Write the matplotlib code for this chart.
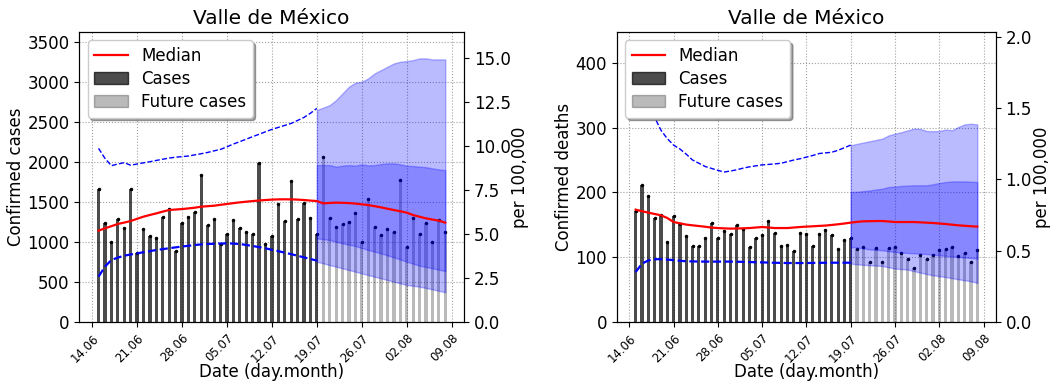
import pandas as pd
import matplotlib
matplotlib.use("Agg")
import matplotlib.pyplot as plt
import matplotlib.dates as mdates
from matplotlib.patches import Patch
from matplotlib.lines import Line2D

region = "Valle de México"
population = 22_000_000

# daily reporting dates: 15.06 – 19.07 observed, 20.07 – 08.08 forecast
dates = pd.date_range("2020-06-15", "2020-08-08")
n_obs = 35
week_ticks = pd.date_range("2020-06-14", "2020-08-09", freq="7D")

# ---- confirmed cases ----
cases_obs = [1667, 1242, 996, 1287, 1171, 1662, 867, 1158, 1071, 1054, 1308, 1408,
             883, 1242, 1308, 1371, 1833, 1212, 1283, 979, 1100, 1271, 1179, 1125,
             1104, 1988, 975, 1071, 1479, 1262, 1758, 1283, 1487, 1300, 1104]
cases_future = [2067, 1296, 1192, 1225, 1246, 1358, 1004, 1533, 1192, 1083, 1162,
                1121, 1775, 933, 1296, 1096, 1237, 1004, 1275, 1121]
cases_median = [1142, 1171, 1198, 1225, 1243, 1262, 1290, 1317, 1338, 1358, 1380,
                1400, 1406, 1412, 1420, 1429, 1442, 1448, 1454, 1465, 1475, 1486,
                1496, 1504, 1512, 1519, 1525, 1530, 1533, 1534, 1533, 1530, 1525,
                1518, 1512, 1483, 1488, 1492, 1490, 1487, 1480, 1471, 1462, 1448,
                1433, 1416, 1400, 1384, 1367, 1337, 1316, 1296, 1281, 1267, 1242]
cases_hi = [2171, 2046, 1954, 1975, 1992, 1960, 1975, 1990, 2004, 2020, 2035, 2050,
            2060, 2068, 2075, 2090, 2104, 2120, 2140, 2158, 2190, 2225, 2255, 2286,
            2317, 2347, 2378, 2408, 2433, 2458, 2483, 2520, 2558, 2610, 2671]
cases_lo = [567, 692, 775, 805, 829, 844, 858, 872, 886, 900, 911, 922, 933, 943,
            953, 962, 970, 975, 978, 981, 983, 980, 975, 963, 950, 936, 921, 903,
            885, 867, 848, 828, 808, 788, 767]
cases_outer_hi = [2650, 2680, 2712, 2775, 2858, 2942, 2992, 3004, 3046, 3108, 3150,
                  3192, 3233, 3254, 3262, 3275, 3296, 3296, 3283, 3283, 3283]
cases_inner_hi = [1962, 1962, 1962, 1942, 1955, 1962, 1955, 1971, 1958, 1962, 1975,
                  1983, 1983, 1971, 1954, 1950, 1942, 1935, 1921, 1908, 1900]
cases_inner_lo = [1046, 1035, 1025, 1004, 983, 967, 950, 925, 900, 879, 858, 833,
                  808, 781, 754, 729, 704, 688, 671, 654, 637]
cases_outer_lo = [754, 733, 712, 692, 671, 650, 629, 608, 587, 566, 546, 525, 504,
                  483, 462, 452, 442, 425, 408, 390, 371]

# ---- confirmed deaths ----
deaths_obs = [172, 211, 194, 160, 165, 123, 163, 151, 133, 118, 117, 130, 153, 130,
              141, 136, 150, 143, 116, 130, 134, 156, 137, 118, 119, 109, 138, 136,
              117, 136, 142, 135, 113, 126, 129]
deaths_future = [112, 116, 92, 114, 92, 114, 115, 106, 97, 83, 104, 97, 103, 111,
                 112, 115, 102, 107, 93, 111]
deaths_median = [173.4, 171, 168.8, 166.7, 164.7, 160.5, 154.3, 152.3, 150.3, 149.2,
                 148.1, 147, 145.7, 145, 144.5, 144.1, 144.3, 144.6, 145, 145.8,
                 146.6, 145.8, 145, 145, 145, 145.8, 146.6, 147.2, 147.7, 148.3,
                 148.8, 149.8, 150.8, 152, 153.4, 154.5, 155.4, 155.6, 155.8, 155.9,
                 155.1, 154.3, 154.3, 154.3, 154.3, 153.8, 153.3, 152.8, 152, 151.2,
                 150.2, 149.2, 148.5, 147.8, 147.2]
deaths_hi = [420, 385, 350, 316, 296, 283, 273, 267, 259, 250, 245, 240, 237, 234,
             231.5, 233, 235, 237.5, 239.5, 241, 242.5, 243.2, 244, 245, 247.5, 250,
             252, 254.5, 257, 260, 261, 262, 265, 269, 273]
deaths_lo = [77, 90, 95, 96.8, 97, 96.3, 95.5, 94.5, 93.7, 93.5, 93.3, 93.2, 93.2,
             93.2, 93.2, 93.2, 93, 92.8, 92.5, 92.2, 92, 91.7, 91.4, 91.2, 91, 91, 91,
             91, 91.2, 91.3, 91.4, 91.5, 91.5, 91.5, 91.5]
deaths_outer_hi = [272.7, 275, 277, 279, 281, 283, 288, 290.7, 293, 295.8, 298.4, 298,
                   294.8, 294.5, 294.8, 297, 296, 301, 305, 306, 305]
deaths_inner_hi = [200.6, 201, 202, 203, 204.5, 205.8, 208.3, 209, 210, 210.5, 211,
                   211, 211, 212.5, 214.5, 216, 217, 217, 217, 216.5, 216]
deaths_inner_lo = [115.7, 115, 113.5, 112, 111.3, 110.6, 109.3, 108, 107.3, 106.5, 106,
                   105.5, 104.8, 104, 103, 102, 101.2, 100.3, 99.5, 98.8, 97.8]
deaths_outer_lo = [90, 89, 88.2, 87.5, 87, 86.4, 84.4, 82.4, 81.6, 80.9, 78.5, 76.2,
                   74, 72, 70.7, 69.4, 67.6, 65.9, 64.4, 62.8, 60.2]


def draw_panel(ax, obs, future, median, hi, lo, outer_lo, outer_hi, inner_lo,
               inner_hi, ymax, yticks, twin_ticks, ylabel):
    past = dates[:n_obs]
    ahead = dates[n_obs:]
    band = dates[n_obs - 1:]

    ax.grid(True, linestyle=":", color="#a0a0a0", linewidth=0.8, zorder=0)
    ax.set_axisbelow(True)

    ax.bar(past, obs, width=0.5, color="k", alpha=0.7, zorder=2)
    ax.bar(ahead, future, width=0.5, color="k", alpha=0.27, zorder=2)
    ax.plot(past, obs, "k.", ms=3, zorder=3)
    ax.plot(ahead, future, "k.", ms=3, zorder=3)

    ax.fill_between(band, outer_lo, outer_hi, color="blue", alpha=0.27, zorder=3)
    ax.fill_between(band, inner_lo, inner_hi, color="blue", alpha=0.27, zorder=3)

    ax.plot(past, hi, "--", color="blue", lw=1.0, zorder=4)
    ax.plot(past, lo, "--", color="blue", lw=1.6, zorder=4)
    ax.plot(dates, median, color="red", lw=1.6, zorder=5)

    ax.set_xlim(pd.Timestamp("2020-06-12"), pd.Timestamp("2020-08-10 22:00"))
    ax.set_ylim(0, ymax)
    ax.set_yticks(yticks)
    ax.set_xticks(week_ticks)
    ax.xaxis.set_major_formatter(mdates.DateFormatter("%d.%m"))
    for lab in ax.get_xticklabels():
        lab.set_rotation(45)
        lab.set_ha("right")
        lab.set_rotation_mode("anchor")
        lab.set_fontsize(8.5)
    ax.tick_params(axis="y", labelsize=12)
    ax.set_ylabel(ylabel, fontsize=12, labelpad=2)
    ax.set_xlabel("Date (day.month)", fontsize=12, labelpad=-1)
    ax.set_title(region, fontsize=14.5)

    handles = [Line2D([], [], color="red", lw=1.6),
               Patch(color="k", alpha=0.7),
               Patch(color="k", alpha=0.27)]
    ax.legend(handles, ["Median", "Cases", "Future cases"], loc="upper left",
              fontsize=12, shadow=True, labelspacing=0.3)

    twin = ax.twinx()
    twin.set_ylim(0, ymax * 1e5 / population)
    twin.set_yticks(twin_ticks)
    twin.tick_params(axis="y", labelsize=12)
    twin.set_ylabel("per 100,000", fontsize=12, labelpad=0.5)


fig = plt.figure(figsize=(10.5, 3.84), dpi=100)
ax_cases = fig.add_axes([0.0755, 0.1615, 0.3664, 0.755])
ax_deaths = fig.add_axes([0.5873, 0.1615, 0.361, 0.755])

draw_panel(ax_cases, cases_obs, cases_future, cases_median, cases_hi, cases_lo,
           cases_outer_lo, cases_outer_hi, cases_inner_lo, cases_inner_hi,
           3625, range(0, 3501, 500), [0, 2.5, 5, 7.5, 10, 12.5, 15],
           "Confirmed cases")
draw_panel(ax_deaths, deaths_obs, deaths_future, deaths_median, deaths_hi, deaths_lo,
           deaths_outer_lo, deaths_outer_hi, deaths_inner_lo, deaths_inner_hi,
           447.5, range(0, 401, 100), [0, 0.5, 1.0, 1.5, 2.0],
           "Confirmed deaths")

fig.savefig("out.png", dpi=100)
